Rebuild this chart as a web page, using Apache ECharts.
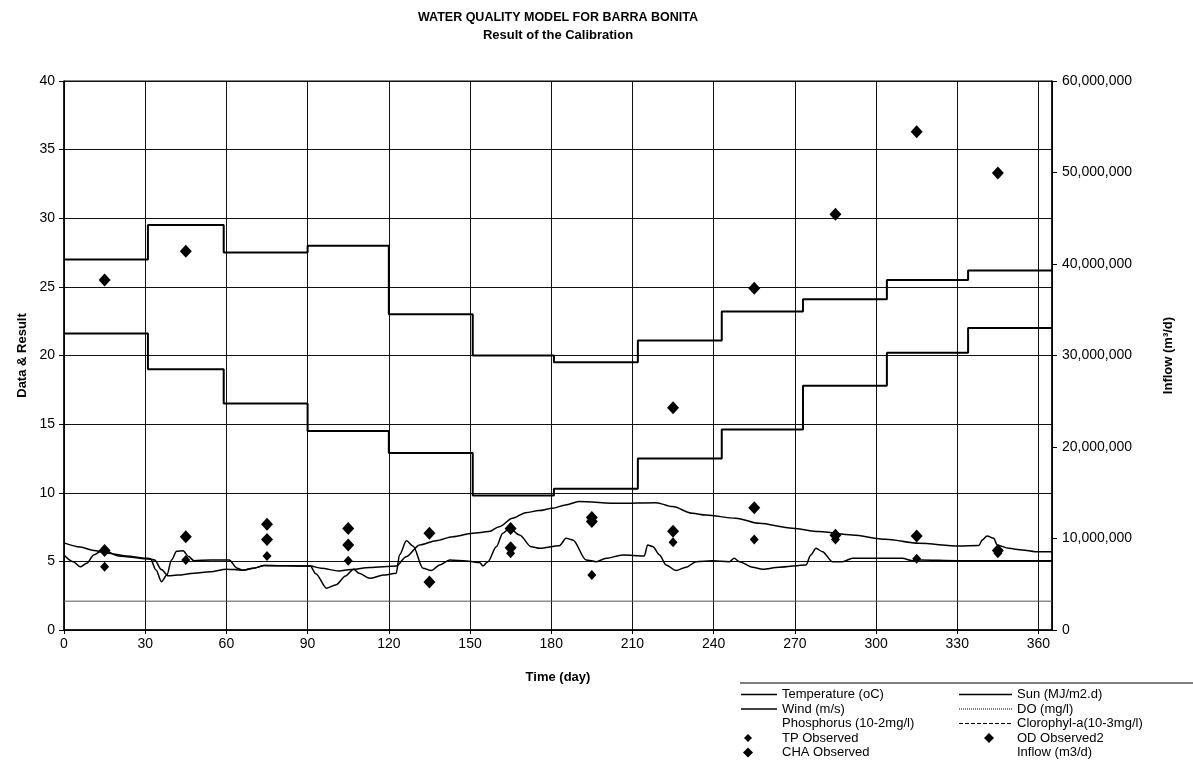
<!DOCTYPE html>
<html>
<head>
<meta charset="utf-8">
<title>Water quality model for Barra Bonita</title>
<script src="https://cdn.jsdelivr.net/npm/echarts@6/dist/echarts.min.js"></script>
<style>
  html, body { margin: 0; padding: 0; background: #fff; }
  #chart { width: 1193px; height: 772px; }
</style>
</head>
<body>
<div id="chart"></div>
<script>
// monthly forcing (value holds from each start day to the next)
const stepDays  = [0, 31, 59, 90, 120, 151, 181, 212, 243, 273, 304, 334, 365]
const tempSteps = [27.0, 29.5, 27.5, 28.0, 23.0, 20.0, 19.5, 21.1, 23.2, 24.1, 25.5, 26.2, 26.2]
const sunSteps  = [21.6, 19.0, 16.5, 14.5, 12.9, 9.8, 10.3, 12.5, 14.6, 17.8, 20.2, 22.0, 22.0]

const windDays = [0, 365]
const windVals = [2.1, 2.1]

// model results
const doDays = [0, 6, 11, 16, 23, 31, 33.5, 36, 38.5, 42, 48, 54, 60, 63, 66, 70, 74, 91, 95, 101.5, 106, 113, 122.8,
  126.4, 131.4, 137.5, 143.6, 151, 157, 160.8, 165.7, 170.6, 175.5, 180.4, 185.3, 190.2, 205, 218.7, 224.8, 232.2,
  237.1, 248.2, 256.8, 269.1, 278.9, 291.2, 303.5, 315.8, 330.6, 338, 339.2, 341, 343.5, 344.7, 349, 354, 358.9, 365]
const doVals = [6.35, 6.05, 5.8, 5.6, 5.4, 5.22, 5.1, 4.4, 3.95, 4.0, 4.13, 4.25, 4.43, 4.4, 4.35, 4.5, 4.7, 4.66, 4.5, 4.3, 4.4, 4.55, 4.67,
  5.34, 6.2, 6.51, 6.8, 7.05, 7.17, 7.53, 8.14, 8.55, 8.7, 8.87, 9.11, 9.36, 9.23, 9.28, 8.99, 8.5,
  8.38, 8.14, 7.77, 7.41, 7.17, 6.92, 6.61, 6.32, 6.12, 6.15, 6.56, 6.85, 6.68, 6.2, 5.95, 5.83, 5.71, 5.71]

const chlDays = [0, 3.4, 6, 8.4, 11, 14.5, 20, 32, 34, 36, 38, 39.7, 41.6, 44, 46, 48, 54, 61, 64, 66, 70, 74, 91, 93, 97,
  100.6, 104, 107, 109, 113, 118, 122.7, 124, 126.5, 129, 132.6, 135.7, 138.8, 142.5, 148.6, 153.5, 154.8, 156.6,
  159.7, 162.1, 164.6, 168.3, 172.6, 175.7, 183, 185.5, 188, 192.9, 196.6, 200.3, 206.4, 214.4, 215.6, 217.5, 220,
  222.4, 226.1, 229.8, 233.5, 239.6, 245.8, 247.6, 249.5, 254.4, 258.1, 264.2, 274.1, 275.9, 277.8, 280.2, 283.9,
  287.6, 291.3, 297.4, 309.7, 313.4, 316, 330, 365]
const chlVals = [5.47, 4.98, 4.6, 4.86, 5.47, 5.83, 5.4, 5.15, 4.37, 3.52, 4.0, 5.1, 5.73, 5.78, 5.35, 5.05, 5.1, 5.1, 4.5, 4.35, 4.5, 4.7, 4.66, 4.1, 3.05,
  3.3, 3.94, 4.43, 4.13, 3.77, 4.0, 4.13, 5.5, 6.5, 6.1, 4.5, 4.33, 4.74, 5.1, 5.03, 4.91, 4.67, 4.98,
  6.07, 7.05, 7.41, 6.92, 6.07, 5.95, 6.14, 6.68, 6.56, 5.1, 4.98, 5.22, 5.47, 5.4, 6.2, 6.08, 5.47,
  4.74, 4.33, 4.57, 4.98, 5.05, 4.98, 5.22, 4.98, 4.57, 4.42, 4.57, 4.74, 5.47, 5.95, 5.71, 4.98,
  4.98, 5.22, 5.22, 5.22, 5.05, 5.1, 5.05, 5.05]

// field observations
const obsDays = [15, 45, 75, 105, 135, 165, 195, 225, 255, 285, 315, 345]
const chaObs  = [25.5, 27.6, 7.7, 7.4, 7.05, 7.4, 7.9, 16.2, 24.9, 30.3, 36.3, 33.3]
const odObs   = [5.8, 6.8, 6.6, 6.2, 3.5, 6.0, 8.2, 7.2, 8.9, 6.9, 6.85, 5.8]
const tpObs   = [4.6, 5.1, 5.4, 5.05, null, 5.6, 4.0, 6.4, 6.6, 6.6, 5.2, 5.6]

const FONT = 'Liberation Sans, Arial, sans-serif'

const pairs = (xs, ys) => xs.map((x, i) => [x, ys[i]]).filter(p => p[1] !== null)

const lineSeries = (name, xs, ys, extra) => Object.assign({
  name,
  type: 'line',
  data: pairs(xs, ys),
  showSymbol: false,
  symbol: 'none',
  color: '#000',
  lineStyle: { color: '#000', width: 1.5 },
  animation: false
}, extra)

const obsSeries = (name, ys, size) => ({
  name,
  type: 'scatter',
  data: pairs(obsDays, ys),
  symbol: 'diamond',
  symbolSize: size,
  color: '#000',
  itemStyle: { color: '#000', opacity: 1 },
  animation: false
})

const chart = echarts.init(document.getElementById('chart'))

const legendText = { fontFamily: FONT, fontSize: 13, color: '#000', lineHeight: 13 }
const hidden = { opacity: 0 }
const lineItem = (name, lineStyle) => ({
  name, itemStyle: hidden, lineStyle: Object.assign({ width: 1.5, color: '#000' }, lineStyle)
})
// diamond placed inside the legend sample box (box widths 36 and 53)
const leftDiamond  = 'path://M7,0L12,5L7,10L2,5Z M0,5L0,5 M36,5L36,5'
const leftSmallDia = 'path://M7,1L11,5L7,9L3,5Z M0,0L0,0 M36,10L36,10'
const rightDiamond = 'path://M30,0L35,5L30,10L25,5Z M0,5L0,5 M53,5L53,5'

const option = {
  backgroundColor: '#fff',
  title: {
    text: 'WATER QUALITY MODEL FOR BARRA BONITA',
    subtext: 'Result of the Calibration',
    left: 553,
    top: 6,
    textAlign: 'center',
    itemGap: 5,
    textStyle: { fontFamily: FONT, fontSize: 12.5, fontWeight: 'bold', color: '#000' },
    subtextStyle: { fontFamily: FONT, fontSize: 13, fontWeight: 'bold', color: '#000' }
  },
  grid: {
    left: 64, right: 141, top: 81, bottom: 142,
    show: true, borderColor: '#000', borderWidth: 1,
    outerBoundsMode: 'none'
  },
  graphic: [{
    type: 'line',
    shape: { x1: 740, y1: 683, x2: 1193, y2: 683 },
    style: { stroke: '#000', lineWidth: 1 }
  }],
  legend: [
    {
      left: 740, top: 688, orient: 'vertical', padding: 0,
      itemWidth: 36, itemHeight: 10, itemGap: 1.5,
      textStyle: legendText,
      data: [
        lineItem('Temperature (oC)'),
        lineItem('Wind (m/s)'),
        { name: 'Phosphorus (10-2mg/l)', itemStyle: hidden, lineStyle: hidden },
        { name: 'TP Observed', icon: leftSmallDia },
        { name: 'CHA Observed', icon: leftDiamond }
      ]
    },
    {
      left: 958, top: 688, orient: 'vertical', padding: 0,
      itemWidth: 53, itemHeight: 10, itemGap: 1.5,
      textStyle: legendText,
      data: [
        lineItem('Sun (MJ/m2.d)'),
        lineItem('DO (mg/l)', { type: 'dotted', width: 1 }),
        lineItem('Clorophyl-a(10-3mg/l)', { type: 'dashed', width: 1 }),
        { name: 'OD Observed2', icon: rightDiamond },
        { name: 'Inflow (m3/d)', itemStyle: hidden, lineStyle: hidden }
      ]
    }
  ],
  xAxis: {
    type: 'value',
    min: 0, max: 365, interval: 30,
    name: 'Time (day)',
    nameLocation: 'middle',
    nameGap: 41,
    nameTextStyle: { fontFamily: FONT, fontSize: 13, fontWeight: 'bold', color: '#000' },
    axisLine: { lineStyle: { color: '#000', width: 1.5 } },
    axisTick: { show: true, length: 4, lineStyle: { color: '#000' } },
    axisLabel: { fontFamily: FONT, fontSize: 14, color: '#000', margin: 7, showMaxLabel: false },
    splitLine: { show: true, lineStyle: { color: '#111', width: 1 } }
  },
  yAxis: [
    {
      type: 'value',
      min: 0, max: 40, interval: 5,
      name: 'Data & Result',
      nameLocation: 'middle',
      nameGap: 28,
      nameRotate: 90,
      nameTextStyle: { fontFamily: FONT, fontSize: 13, fontWeight: 'bold', color: '#000' },
      axisLine: { show: true, lineStyle: { color: '#000', width: 1.5 } },
      axisTick: { show: true, length: 5, lineStyle: { color: '#000' } },
      axisLabel: { fontFamily: FONT, fontSize: 14, color: '#000', margin: 9 },
      splitLine: { show: true, lineStyle: { color: '#111', width: 1 } }
    },
    {
      type: 'value',
      position: 'right',
      min: 0, max: 60000000, interval: 10000000,
      name: 'Inflow (m³/d)',
      nameLocation: 'middle',
      nameGap: 110,
      nameRotate: 90,
      nameTextStyle: { fontFamily: FONT, fontSize: 13, fontWeight: 'bold', color: '#000' },
      axisLine: { show: true, lineStyle: { color: '#000', width: 1.5 } },
      axisTick: { show: true, length: 5, lineStyle: { color: '#000' } },
      axisLabel: {
        fontFamily: FONT, fontSize: 14, color: '#000', margin: 10,
        formatter: v => v.toLocaleString('en-US')
      },
      splitLine: { show: false }
    }
  ],
  series: [
    lineSeries('Temperature (oC)', stepDays, tempSteps, { step: 'end', lineStyle: { color: '#000', width: 2 } }),
    lineSeries('Sun (MJ/m2.d)', stepDays, sunSteps, { step: 'end', lineStyle: { color: '#000', width: 2 } }),
    lineSeries('Wind (m/s)', windDays, windVals, { lineStyle: { color: '#555', width: 1 } }),
    lineSeries('DO (mg/l)', doDays, doVals, { smooth: 0.3, smoothMonotone: 'x' }),
    lineSeries('Phosphorus (10-2mg/l)', [], [], { lineStyle: { opacity: 0 } }),
    lineSeries('Clorophyl-a(10-3mg/l)', chlDays, chlVals, { smooth: 0.3, smoothMonotone: 'x' }),
    obsSeries('TP Observed', tpObs, [9, 10]),
    obsSeries('OD Observed2', odObs, [12, 13]),
    obsSeries('CHA Observed', chaObs, [12, 13]),
    lineSeries('Inflow (m3/d)', [], [], { yAxisIndex: 1, lineStyle: { opacity: 0 } })
  ]
}

chart.setOption(option)
</script>
</body>
</html>
